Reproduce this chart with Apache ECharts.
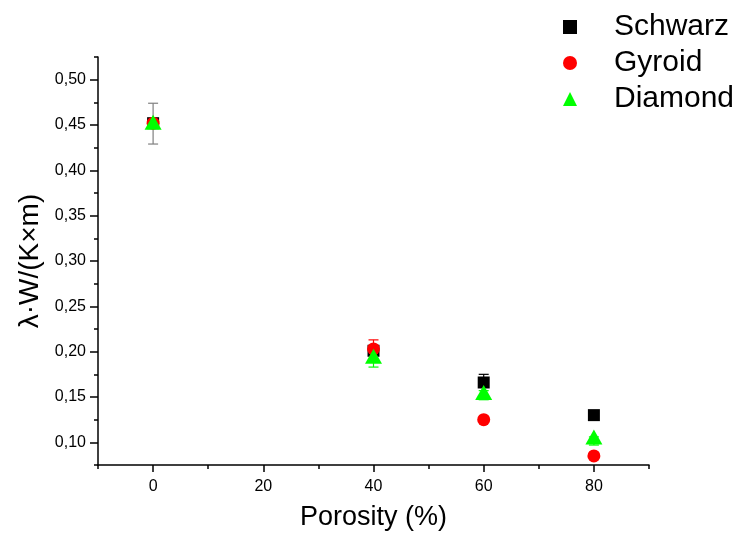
<!DOCTYPE html>
<html>
<head>
<meta charset="utf-8">
<script src="https://cdn.jsdelivr.net/npm/echarts@6/dist/echarts.min.js"></script>
<style>
  html, body { margin: 0; padding: 0; background: #fff; }
  #chart { width: 737px; height: 536px; }
</style>
</head>
<body>
<div id="chart"></div>
<script>
// porosity (%)
var porosity = [0, 40, 60, 80];

// thermal conductivity, W/(K*m)
var schwarz = [0.452, 0.201, 0.166, 0.130];
var gyroid  = [0.452, 0.203, 0.125, 0.085];
var diamond = [0.453, 0.195, 0.155, 0.106];

// error bars [low, high]
var schwarzErr = [[0.429, 0.474], [0.199, 0.204], [0.163, 0.175], [0.129, 0.131]];
var gyroidErr  = [[0.452, 0.452], [0.199, 0.213], [0.125, 0.125], [0.085, 0.085]];
var diamondErr = [[0.452, 0.454], [0.183, 0.197], [0.147, 0.157], [0.097, 0.106]];

// ticks
var xMajorTicks = [0, 20, 40, 60, 80];
var xMinorTicks = [-10, 10, 30, 50, 70, 90];
var yMajorTicks = [0.10, 0.15, 0.20, 0.25, 0.30, 0.35, 0.40, 0.45, 0.50];
var yMinorTicks = [0.075, 0.125, 0.175, 0.225, 0.275, 0.325, 0.375, 0.425, 0.475, 0.525];

var FONT = 'Liberation Sans, Arial, sans-serif';

function pairs(xs, ys) {
    return xs.map(function (x, i) { return [x, ys[i]]; });
}
function errRows(xs, errs) {
    return xs.map(function (x, i) { return [x, errs[i][0], errs[i][1]]; });
}

// draws vertical error bar with caps
function errorSeries(name, errs, color) {
    return {
        type: 'custom',
        name: name,
        z: 1,
        silent: true,
        data: errRows(porosity, errs),
        renderItem: function (params, api) {
            var x = api.value(0);
            if (api.value(2) - api.value(1) < 0.0005) {
                return null;
            }
            var lo = api.coord([x, api.value(1)]);
            var hi = api.coord([x, api.value(2)]);
            var c = x === 0 ? '#808080' : color;
            var cap = 5;
            var st = { stroke: c, lineWidth: 1.2 };
            return {
                type: 'group',
                children: [
                    { type: 'line', shape: { x1: lo[0], y1: lo[1], x2: hi[0], y2: hi[1] }, style: st },
                    { type: 'line', shape: { x1: lo[0] - cap, y1: lo[1], x2: lo[0] + cap, y2: lo[1] }, style: st },
                    { type: 'line', shape: { x1: hi[0] - cap, y1: hi[1], x2: hi[0] + cap, y2: hi[1] }, style: st }
                ]
            };
        }
    };
}

var axisLine = { show: true, onZero: false, lineStyle: { color: '#000', width: 1.5 } };

var option = {
    backgroundColor: '#fff',
    animation: false,
    grid: { left: 98, top: 57, right: 88, bottom: 68 },
    legend: {
        orient: 'vertical',
        left: 558,
        top: 6,
        itemWidth: 14,
        itemHeight: 14,
        itemGap: 4,
        textStyle: { fontFamily: FONT, fontSize: 30, color: '#000', lineHeight: 32, padding: [0, 0, 0, 32] },
        data: ['Schwarz', 'Gyroid', 'Diamond']
    },
    xAxis: [{
        type: 'value',
        min: -10,
        max: 90,
        name: 'Porosity (%)',
        nameLocation: 'middle',
        nameGap: 39,
        nameTextStyle: { fontFamily: FONT, fontSize: 27, color: '#000' },
        axisLine: axisLine,
        axisTick: { show: true, length: 7, customValues: xMajorTicks, lineStyle: { color: '#000', width: 1.5 } },
        axisLabel: { customValues: xMajorTicks, margin: 14, fontFamily: FONT, fontSize: 16, color: '#000' },
        splitLine: { show: false }
    }, {
        type: 'value',
        min: -10,
        max: 90,
        position: 'bottom',
        axisLine: { show: false, onZero: false },
        axisTick: { show: true, length: 4, customValues: xMinorTicks, lineStyle: { color: '#000', width: 1.5 } },
        axisLabel: { show: false },
        splitLine: { show: false }
    }],
    yAxis: [{
        type: 'value',
        min: 0.075,
        max: 0.525,
        name: 'λ·W/(K×m)',
        nameLocation: 'middle',
        nameGap: 54,
        nameTextStyle: { fontFamily: FONT, fontSize: 28, color: '#000' },
        axisLine: axisLine,
        axisTick: { show: true, length: 8, customValues: yMajorTicks, lineStyle: { color: '#000', width: 1.5 } },
        axisLabel: {
            customValues: yMajorTicks,
            margin: 12,
            fontFamily: FONT,
            fontSize: 16,
            color: '#000',
            formatter: function (v) { return v.toFixed(2).replace('.', ','); }
        },
        splitLine: { show: false }
    }, {
        type: 'value',
        min: 0.075,
        max: 0.525,
        position: 'left',
        axisLine: { show: false, onZero: false },
        axisTick: { show: true, length: 4, customValues: yMinorTicks, lineStyle: { color: '#000', width: 1.5 } },
        axisLabel: { show: false },
        splitLine: { show: false }
    }],
    series: [
        errorSeries('Schwarz err', schwarzErr, '#000'),
        errorSeries('Gyroid err', gyroidErr, '#ff0000'),
        errorSeries('Diamond err', diamondErr, '#00ff00'),
        {
            name: 'Schwarz',
            type: 'scatter',
            z: 2,
            symbol: 'rect',
            symbolSize: 12,
            itemStyle: { color: '#000', opacity: 1 },
            data: pairs(porosity, schwarz)
        },
        {
            name: 'Gyroid',
            type: 'scatter',
            z: 3,
            symbol: 'circle',
            symbolSize: 13,
            itemStyle: { color: '#ff0000', opacity: 1 },
            data: pairs(porosity, gyroid)
        },
        {
            name: 'Diamond',
            type: 'scatter',
            z: 4,
            symbol: 'triangle',
            symbolSize: [17, 15],
            itemStyle: { color: '#00ff00', opacity: 1 },
            data: pairs(porosity, diamond)
        }
    ]
};

var myChart = echarts.init(document.getElementById('chart'), null, { renderer: 'canvas' });
myChart.setOption(option);
</script>
</body>
</html>
